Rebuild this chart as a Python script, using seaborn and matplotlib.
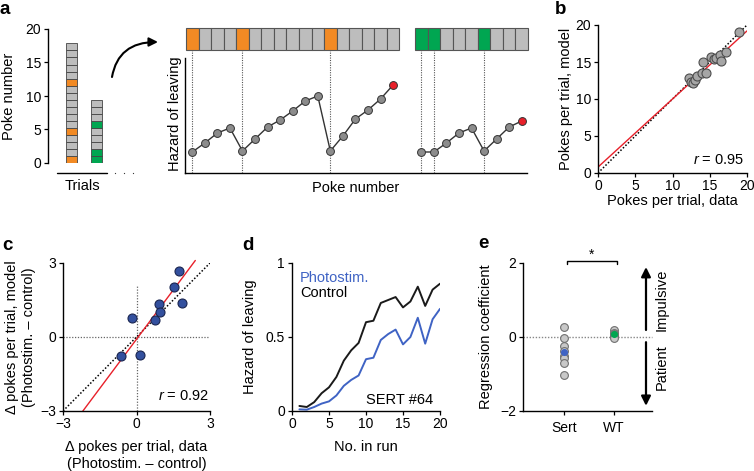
import numpy as np
import pandas as pd
import matplotlib
matplotlib.use("Agg")
import matplotlib.pyplot as plt
import seaborn as sns

# panel a: reward (1) / no reward (0) per poke, and the model hazard per poke
trial1_rewards = [1, 0, 0, 0, 1, 0, 0, 0, 0, 0, 0, 1, 0, 0, 0, 0, 0]
trial2_rewards = [1, 1, 0, 0, 0, 1, 0, 0, 0]
trial1_hazard = [0.21, 0.30, 0.40, 0.45, 0.22, 0.34, 0.46, 0.53, 0.62, 0.72,
                 0.77, 0.22, 0.37, 0.54, 0.63, 0.74, 0.88]
trial2_hazard = [0.21, 0.21, 0.30, 0.40, 0.45, 0.22, 0.34, 0.46, 0.52]

# panel b: pokes per trial, data vs model
b_data = [12.2, 12.5, 12.8, 13.0, 13.3, 13.9, 14.1, 14.5, 15.2, 15.6, 15.9, 16.4, 16.5, 17.2, 18.9]
b_model = [12.8, 12.3, 12.1, 12.5, 13.1, 13.5, 15.0, 13.5, 15.7, 15.4, 15.6, 15.9, 15.2, 16.3, 19.0]
b_fit = (0.8, 0.92)      # intercept, slope
b_r = 0.95

# panel c: delta pokes per trial (photostim - control)
c_data = [1.72, 1.53, 1.84, 0.92, 0.96, 0.74, -0.18, 0.14, -0.64]
c_model = [2.68, 2.03, 1.39, 1.35, 1.01, 0.69, 0.77, -0.72, -0.77]
c_fit = (-0.09, 1.33)
c_fit_range = (-2.19, 2.40)
c_r = 0.92

# panel d: hazard of leaving by number in run, SERT #64
run_no = list(range(1, 21))
d_control = [0.034, 0.027, 0.06, 0.12, 0.16, 0.23, 0.34, 0.41, 0.46, 0.60,
             0.61, 0.73, 0.75, 0.77, 0.70, 0.74, 0.84, 0.71, 0.82, 0.86]
d_photostim = [0.011, 0.009, 0.027, 0.05, 0.065, 0.105, 0.17, 0.21, 0.24, 0.35,
               0.36, 0.48, 0.52, 0.55, 0.45, 0.50, 0.63, 0.455, 0.62, 0.69]

# panel e: regression coefficients
e_groups = ["Sert", "WT"]
e_sert = [0.27, -0.04, -0.25, -0.38, -0.50, -0.58, -0.71, -1.04]
e_wt = [0.18, 0.12, 0.08, 0.05, 0.02, -0.02]

ORANGE = "#f28a24"
GREEN = "#00a651"
CELL_GRAY = "#bdbdbd"
BLUE = "#3f63c4"
NAVY = "#33509e"
RED = "#e8202a"

W, H = 754, 471
FS = 10.5

sns.set_style("ticks")
plt.rcParams["font.family"] = ["Liberation Sans", "DejaVu Sans"]
plt.rcParams["mathtext.fontset"] = "custom"
plt.rcParams["mathtext.it"] = "Liberation Sans:italic"
plt.rcParams["mathtext.rm"] = "Liberation Sans"
plt.rcParams["font.size"] = FS
plt.rcParams["axes.labelsize"] = FS
plt.rcParams["xtick.labelsize"] = 10
plt.rcParams["ytick.labelsize"] = 10
plt.rcParams["axes.edgecolor"] = "black"
plt.rcParams["xtick.color"] = "black"
plt.rcParams["ytick.color"] = "black"
plt.rcParams["axes.labelcolor"] = "black"
plt.rcParams["text.color"] = "black"

fig = plt.figure(figsize=(W / 100, H / 100), dpi=100)


def px_axes(x0, y0, x1, y1):
    return fig.add_axes([x0 / W, 1 - y1 / H, (x1 - x0) / W, (y1 - y0) / H])


def style(ax):
    sns.despine(ax=ax)
    for s in ["left", "bottom"]:
        ax.spines[s].set_linewidth(1.0)
    ax.tick_params(length=3, width=0.9, pad=2)
    ax.tick_params(axis="x", pad=1.5)


def ylabel_at(ax, px_right, frac=0.5):
    b = ax.get_position()
    ax.yaxis.set_label_coords((px_right / W - b.x0) / b.width, frac)


def xlabel_at(ax, px_top):
    b = ax.get_position()
    ax.xaxis.set_label_coords(0.5, ((1 - px_top / H) - b.y0) / b.height)


def panel_letter(x, y, s):
    fig.text(x / W, 1 - y / H, s, fontsize=13.5, fontweight="bold", ha="center", va="center")


cell_h = 1.05

# ---- a, left: stacked poke cells per trial
ax = px_axes(48, 29, 140, 163)
style(ax)
ax.spines["bottom"].set_visible(False)
for xpos, seq, col in [(1, trial1_rewards, ORANGE), (2, trial2_rewards, GREEN)]:
    for i, r in enumerate(seq):
        ax.bar(xpos, cell_h, bottom=i * cell_h, width=0.44,
               color=col if r else CELL_GRAY, edgecolor="#444444", linewidth=0.6)
ax.set_xlim(0.06, 3.74)
ax.set_ylim(0, 20)
ax.set_yticks([0, 5, 10, 15, 20])
ax.set_xticks([])
ax.plot([0.42, 2.42], [-1.5, -1.5], color="black", lw=1.0, clip_on=False)
ax.plot([2.74, 3.1, 3.46], [-1.5, -1.5, -1.5], ls="none", marker="o", ms=0.9,
        mew=0, color="#333333", clip_on=False)
ax.text(1.42, -2.4, "Trials", ha="center", va="top")
ax.set_ylabel("Poke number")
ylabel_at(ax, 16)

# ---- a, right: hazard of leaving
ax = px_axes(185, 28, 527, 173)
style(ax)
ax.spines["left"].set_bounds(0, 1.15)
ax.set_xlim(-0.08, 27.17)
ax.set_ylim(0, 1.45)
ax.set_xticks([])
ax.set_yticks([])
start2 = 18.25
for start, seq, haz, col in [(0, trial1_rewards, trial1_hazard, ORANGE),
                             (start2, trial2_rewards, trial2_hazard, GREEN)]:
    xs = [start + i + 0.5 for i in range(len(seq))]
    for x, r in zip(xs, seq):
        ax.bar(x, 0.22, bottom=1.23, width=1, color=col if r else CELL_GRAY,
               edgecolor="#555555", linewidth=0.8, clip_on=False)
        if r:
            ax.plot([x, x], [0, 1.23], ls=(0, (1, 1.2)), color="#555555", lw=0.8, zorder=1)
    ax.plot(xs, haz, color="#333333", lw=1.0, zorder=2)
    ax.scatter(xs[:-1], haz[:-1], s=32, color="#8c8c8c", edgecolor="#333333",
               linewidth=0.7, zorder=3)
    ax.scatter(xs[-1:], haz[-1:], s=32, color=RED, edgecolor="#333333",
               linewidth=0.7, zorder=3)
ax.set_xlabel("Poke number")
xlabel_at(ax, 181)
ax.set_ylabel("Hazard of leaving")
ylabel_at(ax, 182, frac=(173 - 114) / 145)

ax.annotate("", xy=(158, H - 42), xytext=(112, H - 77),
            xycoords="figure pixels", textcoords="figure pixels",
            arrowprops=dict(arrowstyle="-|>", color="black", lw=1.5,
                            mutation_scale=13, shrinkA=0, shrinkB=0,
                            connectionstyle="angle3,angleA=80,angleB=0"))

# ---- b
ax = px_axes(598, 25, 747, 173)
style(ax)
ax.plot([0, 20], [0, 20], ls=(0, (1, 1.3)), color="black", lw=1.1, zorder=1)
ax.plot([0, 20], [b_fit[0], b_fit[0] + 20 * b_fit[1]], color=RED, lw=1.0, zorder=2)
sns.scatterplot(x=b_data, y=b_model, ax=ax, s=42, color="#a6a6a6",
                edgecolor="#4d4d4d", linewidth=0.8, zorder=3)
ax.set_xlim(0, 20)
ax.set_ylim(0, 20)
ax.set_xticks([0, 5, 10, 15, 20])
ax.set_yticks([0, 5, 10, 15, 20])
ax.set_xlabel("Pokes per trial, data")
xlabel_at(ax, 194)
ax.set_ylabel("Pokes per trial, model")
ylabel_at(ax, 573)
ax.text(19.6, 1.76, r"$r$ = %.2f" % b_r, ha="right", va="center")

# ---- c
ax = px_axes(63, 263, 210, 411)
style(ax)
ax.plot([-3, 3], [0, 0], ls=(0, (1, 1.3)), color="#666666", lw=0.9, zorder=1)
ax.plot([0, 0], [-3, 2.1], ls=(0, (1, 1.3)), color="#666666", lw=0.9, zorder=1)
ax.plot([-3, 3], [-3, 3], ls=(0, (1, 1.3)), color="black", lw=1.1, zorder=1)
xf = np.array(c_fit_range)
ax.plot(xf, c_fit[0] + c_fit[1] * xf, color=RED, lw=1.0, zorder=2, clip_on=False)
sns.scatterplot(x=c_data, y=c_model, ax=ax, s=42, color=NAVY,
                edgecolor="#1a2550", linewidth=0.8, zorder=3)
ax.set_xlim(-3, 3)
ax.set_ylim(-3, 3)
ax.set_xticks([-3, 0, 3])
ax.set_yticks([-3, 0, 3])
ax.set_xlabel("\u0394 pokes per trial, data\n(Photostim. \u2013 control)", linespacing=1.25)
xlabel_at(ax, 440)
ax.set_ylabel("\u0394 pokes per trial, model\n(Photostim. \u2013 control)", linespacing=1.25)
ylabel_at(ax, 36)
ax.text(2.95, -2.4, r"$r$ = %.2f" % c_r, ha="right", va="center")

# ---- d
ax = px_axes(292, 263, 440, 411)
style(ax)
df_d = pd.DataFrame({
    "n": run_no * 2,
    "hazard": d_control + d_photostim,
    "cond": ["Control"] * len(run_no) + ["Photostim."] * len(run_no),
})
sns.lineplot(data=df_d, x="n", y="hazard", hue="cond", ax=ax, legend=False,
             palette={"Control": "#1a1a1a", "Photostim.": BLUE}, lw=1.4)
ax.set_xlim(0, 20)
ax.set_ylim(0, 1)
ax.set_xticks([0, 5, 10, 15, 20])
ax.set_yticks([0, 0.5, 1])
ax.set_yticklabels(["0", "0.5", "1"])
ax.set_xlabel("No. in run")
xlabel_at(ax, 440)
ax.set_ylabel("Hazard of leaving")
ylabel_at(ax, 257)
ax.text(1.08, 0.90, "Photostim.", color=BLUE, ha="left", va="center")
ax.text(1.08, 0.80, "Control", color="black", ha="left", va="center")
ax.text(19.05, 0.074, "SERT #64", ha="right", va="center")

# ---- e
ax = px_axes(523, 263, 652, 411)
style(ax)
df_e = pd.DataFrame({
    "group": ["Sert"] * len(e_sert) + ["WT"] * len(e_wt),
    "coef": e_sert + e_wt,
})
ax.plot([-0.82, 1.76], [0, 0], ls=(0, (1, 1.2)), color="#888888", lw=1.0, zorder=1,
        clip_on=False)
sns.stripplot(data=df_e, x="group", y="coef", order=e_groups, jitter=False, ax=ax,
              color="#c8c8c8", edgecolor="#707070", linewidth=0.8, size=5.6, zorder=2)
ax.scatter([0], [np.mean(e_sert)], s=26, color=BLUE, zorder=4, linewidth=0)
ax.scatter([1], [np.mean(e_wt)], s=26, color=GREEN, zorder=4, linewidth=0)
ax.set_xlim(-0.82, 1.76)
ax.set_ylim(-2, 2)
ax.set_yticks([-2, 0, 2])
ax.set_xlabel("")
ax.set_ylabel("Regression coefficient")
ylabel_at(ax, 493)
ax.tick_params(axis="x", pad=4)
ax.plot([0.05, 0.05, 1.05, 1.05], [1.98, 2.05, 2.05, 1.98], color="black", lw=1.0,
        clip_on=False)
ax.text(0.55, 2.22, "*", ha="center", va="center", fontsize=10)
ax.annotate("", xy=(1.64, 1.89), xytext=(1.64, 0.19), annotation_clip=False,
            arrowprops=dict(arrowstyle="-|>", color="black", lw=1.6,
                            mutation_scale=14, shrinkA=0, shrinkB=0))
ax.annotate("", xy=(1.64, -1.86), xytext=(1.64, -0.14), annotation_clip=False,
            arrowprops=dict(arrowstyle="-|>", color="black", lw=1.6,
                            mutation_scale=14, shrinkA=0, shrinkB=0))
ax.text(1.96, 1.0, "Impulsive", rotation=90, ha="center", va="center")
ax.text(1.96, -0.81, "Patient", rotation=90, ha="center", va="center")

panel_letter(5, 10, "a")
panel_letter(561, 10, "b")
panel_letter(7, 245, "c")
panel_letter(248, 245, "d")
panel_letter(483, 244, "e")

fig.savefig("out.png", dpi=100)
